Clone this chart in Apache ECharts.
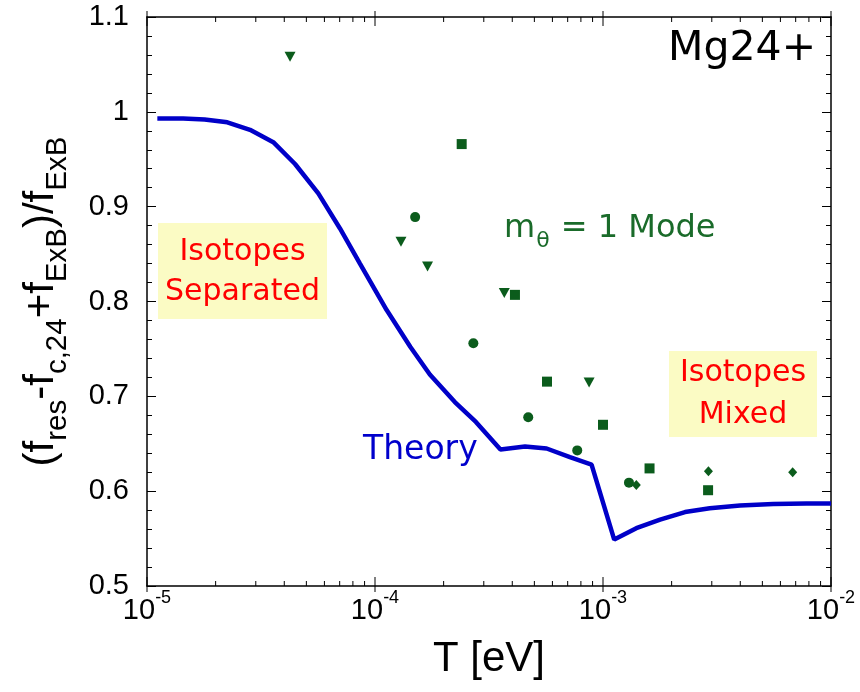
<!DOCTYPE html>
<html>
<head>
<meta charset="utf-8">
<script src="https://cdn.jsdelivr.net/npm/echarts@6/dist/echarts.min.js"></script>
<style>
html,body{margin:0;padding:0;background:#fff;}
#chart{width:860px;height:692px;}
</style>
</head>
<body>
<div id="chart"></div>
<script>
// ---- data ----
var theoryT = [1.11e-5, 1.44e-5, 1.79e-5, 2.25e-5, 2.83e-5, 3.58e-5, 4.46e-5, 5.64e-5, 7.02e-5, 8.59e-5,
               1.125e-4, 1.43e-4, 1.74e-4, 2.24e-4, 2.77e-4, 3.55e-4, 4.55e-4, 5.66e-4, 7.16e-4, 8.91e-4,
               1.12e-3, 1.40e-3, 1.78e-3, 2.29e-3, 2.94e-3, 3.99e-3, 5.58e-3, 7.8e-3, 1e-2];
var theoryV = [0.993, 0.993, 0.992, 0.989, 0.981, 0.968, 0.945, 0.914, 0.877, 0.840,
               0.791, 0.752, 0.723, 0.694, 0.673, 0.644, 0.647, 0.645, 0.636, 0.628,
               0.549, 0.561, 0.570, 0.578, 0.582, 0.585, 0.5865, 0.587, 0.587];

var triT = [4.24e-5, 1.30e-4, 1.70e-4, 3.69e-4, 8.69e-4];
var triV = [1.058, 0.863, 0.837, 0.809, 0.7145];

var sqT = [2.40e-4, 4.11e-4, 5.68e-4, 1.0e-3, 1.60e-3, 2.89e-3];
var sqV = [0.966, 0.807, 0.7155, 0.670, 0.624, 0.601];

var cirT = [1.50e-4, 2.70e-4, 4.70e-4, 7.71e-4, 1.30e-3];
var cirV = [0.889, 0.756, 0.678, 0.643, 0.609];

var diaT = [1.40e-3, 2.90e-3, 6.79e-3];
var diaV = [0.6065, 0.621, 0.620];

var xMajorTicks = [1e-5, 1e-4, 1e-3, 1e-2];
var xMinorMultipliers = [2, 3, 4, 5, 6, 7, 8, 9];
var xDecades = [1e-5, 1e-4, 1e-3];
var yTicks = [0.5, 0.6, 0.7, 0.8, 0.9, 1, 1.1];

// ---- build ----
function zip(a, b) { return a.map(function (v, i) { return [v, b[i]]; }); }

var tickData = [];
xMajorTicks.forEach(function (v) { tickData.push([v, 0.5, 1]); });
xDecades.forEach(function (d) {
  xMinorMultipliers.forEach(function (m) { tickData.push([d * m, 0.5, 0]); });
});

var GREEN = '#0b5c1c';
var FONT = 'Liberation Sans, Arial, sans-serif';
var FONT2 = 'DejaVu Sans, sans-serif';

var chart = echarts.init(document.getElementById('chart'), null, { renderer: 'canvas' });

var yAxisCommon = {
  type: 'value', min: 0.5, max: 1.1, interval: 0.1,
  axisLine: { show: true, lineStyle: { color: '#000', width: 1.5 } },
  axisTick: { show: true, inside: true, length: 9, lineStyle: { color: '#000', width: 1 } },
  minorTick: { show: true, splitNumber: 5, length: 5, lineStyle: { color: '#000', width: 1 } },
  splitLine: { show: false }, minorSplitLine: { show: false }
};

var option = {
  animation: false,
  backgroundColor: '#fff',
  grid: { left: 147, right: 29, top: 17, bottom: 106, containLabel: false },
  xAxis: [{
    type: 'log', logBase: 10, min: 1e-5, max: 1e-2, position: 'bottom',
    axisLine: { show: true, onZero: false, lineStyle: { color: '#000', width: 1.5 } },
    axisTick: { show: false }, minorTick: { show: false },
    splitLine: { show: false },
    axisLabel: {
      margin: 10,
      formatter: function (v) {
        var e = Math.round(Math.log(v) / Math.LN10);
        return '{b|10}{s|' + e + '}';
      },
      rich: {
        b: { fontSize: 29, lineHeight: 29, fontFamily: FONT, color: '#000', verticalAlign: 'bottom' },
        s: { fontSize: 18, lineHeight: 18, fontFamily: FONT, color: '#000', verticalAlign: 'bottom', padding: [0, 0, 18, 0] }
      }
    },
    name: 'T [eV]', nameLocation: 'middle', nameGap: 52,
    nameTextStyle: { fontSize: 42, fontFamily: FONT, color: '#000' }
  }, {
    type: 'log', logBase: 10, min: 1e-5, max: 1e-2, position: 'top',
    axisLine: { show: true, onZero: false, lineStyle: { color: '#000', width: 1.5 } },
    axisTick: { show: false }, minorTick: { show: false },
    axisLabel: { show: false }, splitLine: { show: false }
  }],
  yAxis: [Object.assign({}, yAxisCommon, {
    position: 'left',
    axisLabel: {
      margin: 18, fontSize: 29, fontFamily: FONT, color: '#000',
      formatter: function (v) { return String(Math.round(v * 10) / 10); }
    },
    name: '{m|(f}{s|res}{m|-f}{s|c,24}{m|+f}{s|ExB}{m|)/f}{s|ExB}',
    nameLocation: 'middle', nameRotate: 90, nameGap: 85,
    nameTextStyle: {
      rich: {
        m: { fontSize: 42, lineHeight: 42, fontFamily: FONT, color: '#000', verticalAlign: 'top' },
        s: { fontSize: 29.5, lineHeight: 29.5, fontFamily: FONT, color: '#000', verticalAlign: 'top', padding: [23, 0, 0, 0] }
      }
    }
  }), Object.assign({}, yAxisCommon, {
    position: 'right',
    axisLabel: { show: false }
  })],
  series: [{
    type: 'custom', name: 'xticks', xAxisIndex: 0, yAxisIndex: 0, clip: false, silent: true, z: 5,
    data: tickData,
    renderItem: function (params, api) {
      var v = api.value(0);
      var major = api.value(2) === 1;
      var pb = api.coord([v, 0.5]);
      var pt = api.coord([v, 1.1]);
      var inL = major ? 9 : 5, outL = major ? 6 : 0;
      var st = { stroke: '#000', lineWidth: 1 };
      return {
        type: 'group', children: [
          { type: 'line', shape: { x1: pb[0], y1: pb[1] + outL, x2: pb[0], y2: pb[1] - inL }, style: st },
          { type: 'line', shape: { x1: pt[0], y1: pt[1] - outL, x2: pt[0], y2: pt[1] + inL }, style: st }
        ]
      };
    }
  }, {
    type: 'line', name: 'Theory', data: zip(theoryT, theoryV), showSymbol: false, symbol: 'none',
    lineStyle: { color: '#0000c8', width: 4.5 }, z: 3, clip: true
  }, {
    type: 'scatter', name: 'tri', data: zip(triT, triV), symbol: 'triangle', symbolRotate: 180,
    symbolSize: [11, 10], itemStyle: { color: GREEN, opacity: 1 }, z: 4
  }, {
    type: 'scatter', name: 'sq', data: zip(sqT, sqV), symbol: 'rect',
    symbolSize: 10, itemStyle: { color: GREEN, opacity: 1 }, z: 4
  }, {
    type: 'scatter', name: 'cir', data: zip(cirT, cirV), symbol: 'circle',
    symbolSize: 10, itemStyle: { color: GREEN, opacity: 1 }, z: 4
  }, {
    type: 'scatter', name: 'dia', data: zip(diaT, diaV), symbol: 'diamond',
    symbolSize: [9, 10], itemStyle: { color: GREEN, opacity: 1 }, z: 4
  }],
  graphic: [
    { type: 'rect', shape: { x: 158, y: 223, width: 169, height: 96 }, style: { fill: '#fbfbc4' }, z: 1 },
    { type: 'text', x: 242.5, y: 272, z: 2,
      style: { text: 'Isotopes\nSeparated', fill: '#ff0000', font: '30px ' + FONT2, lineHeight: 40, align: 'center', verticalAlign: 'middle' } },
    { type: 'rect', shape: { x: 669, y: 351, width: 148, height: 86 }, style: { fill: '#fbfbc4' }, z: 1 },
    { type: 'text', x: 743, y: 394, z: 2,
      style: { text: 'Isotopes\nMixed', fill: '#ff0000', font: '30px ' + FONT2, lineHeight: 42, align: 'center', verticalAlign: 'middle' } },
    { type: 'text', x: 816, y: 49, z: 2,
      style: { text: 'Mg24+', fill: '#000', font: '41px ' + FONT2, align: 'right', verticalAlign: 'middle' } },
    { type: 'text', x: 363, y: 450, z: 2,
      style: { text: 'Theory', fill: '#0000cc', font: '33px ' + FONT2, align: 'left', verticalAlign: 'middle' } },
    { type: 'text', x: 504, y: 229, z: 2,
      style: {
        text: '{m|m}{t|θ}{m| = 1 Mode}', align: 'left', verticalAlign: 'middle',
        rich: {
          m: { fontSize: 32, lineHeight: 32, fontFamily: FONT2, fill: '#1a6b2a', verticalAlign: 'top' },
          t: { fontSize: 22, lineHeight: 22, fontFamily: FONT2, fill: '#1a6b2a', verticalAlign: 'top', padding: [17, 1, 0, 1] }
        }
      } }
  ]
};
chart.setOption(option);
</script>
</body>
</html>
